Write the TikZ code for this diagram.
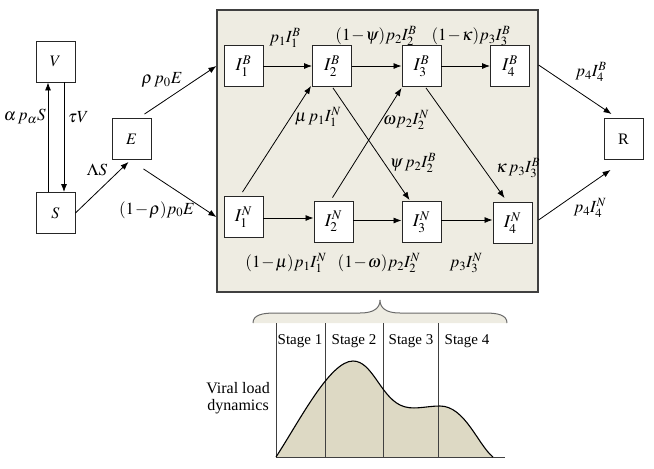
\documentclass[tikz,border=0pt]{standalone}
\usepackage{mathptmx}
\usepackage[no-math]{fontspec}
\setmainfont{Liberation Serif}
\usetikzlibrary{arrows.meta,calc}
\definecolor{panelfill}{HTML}{EEECE2}
\definecolor{curvefill}{HTML}{DDD9C4}
\definecolor{edgegray}{HTML}{404040}
\definecolor{bracegray}{HTML}{6A6A6A}
\newcommand{\mminus}{\mskip1mu{-}\mskip1mu}
\begin{document}
\begin{tikzpicture}[x=1pt,y=-1pt,
  box/.style={draw=black!85,line width=0.9pt,fill=white,minimum width=39pt,minimum height=41pt,inner sep=0pt,font=\fontsize{16}{19}\selectfont},
  ibox/.style={box,font=\fontsize{18}{20}\selectfont},
  lbl/.style={inner sep=0pt,font=\fontsize{17}{20}\selectfont},
  arr/.style={-{Latex[length=8pt,width=6pt]},line width=0.8pt},
  stagetxt/.style={inner sep=0pt,anchor=base,font=\fontsize{15}{17}\selectfont},
  panelbox/.style={draw=edgegray,line width=1.2pt,fill=panelfill,minimum width=321pt,minimum height=282pt,inner sep=0pt},
  divline/.style={draw=edgegray,line width=0.9pt}
]
\useasboundingbox (0,0) rectangle (654,469);
% panel
\node[panelbox] (panel) at (377.5,151) {};
% left boxes
\node[box] (V) at (55.5,61.5) {$V$};
\node[box] (S) at (55.5,213) {$S$};
\node[box] (E) at (131.5,139) {$E$};
\node[box] (R) at (623.5,139) {R};
% infected boxes
\node[ibox] (I1B) at (243.5,66) {$I_1^B$};
\node[ibox] (I2B) at (332,66) {$I_2^B$};
\node[ibox] (I3B) at (421.5,66) {$I_3^B$};
\node[ibox] (I4B) at (510,66) {$I_4^B$};
\node[ibox] (I1N) at (243.5,217) {$I_1^N$};
\node[ibox] (I2N) at (333.5,221.5) {$I_2^N$};
\node[ibox] (I3N) at (421.5,222) {$I_3^N$};
\node[ibox] (I4N) at (512.5,223) {$I_4^N$};
% left connectors
\draw[arr] ($(S.north)+(-7.5,0)$) -- ($(V.south)+(-7.5,0)$);
\draw[arr] ($(V.south)+(8.5,0)$) -- ($(S.north)+(8.5,0)$);
\draw[arr] (S.east) -- ($(E.south)+(-3,2)$);
\draw[arr] ($(E.north)+(13,-4)$) -- (I1B -| panel.west);
\draw[arr] ($(E.south)+(12,9)$) -- (I1N -| panel.west);
\draw[arr] ($(I4B.east -| panel.east)+(0,-1)$) -- ($(R.north west)+(8,-4)$);
\draw[arr] ($(I4N.east -| panel.east)+(0,-3)$) -- ($(R.south west)+(7,10)$);
% top row
\draw[arr] (I1B.east) -- (I2B.west);
\draw[arr] (I2B.east) -- (I3B.west);
\draw[arr] (I3B.east) -- (I4B.west);
% bottom row
\draw[arr] ($(I1N.east)+(0,1)$) -- ($(I1N.east -| I2N.west)+(0,1)$);
\draw[arr] ($(I2N.east)+(0,-1)$) -- ($(I2N.east -| I3N.west)+(0,-1)$);
\draw[arr] ($(I3N.east)+(0,-2)$) -- ($(I3N.east -| I4N.west)+(0,-2)$);
% crossing
\draw[arr] ($(I1N.north)+(-1,-4)$) -- ($(I2B.south west)+(-1,-1)$);
\draw[arr] ($(I2N.north)+(-1,-3)$) -- ($(I3B.south west)+(0,1)$);
\draw[arr] ($(I2B.south)+(1,1)$) -- ($(I3N.north west)+(8,-1)$);
\draw[arr] ($(I3B.south)+(4.5,1)$) -- ($(I4N.north west)+(12,-4)$);
% labels
\node[lbl,anchor=east] (l1) at (46,117) {$\alpha\,p_{\alpha}S$};
\node[lbl,anchor=west] (l2) at (68,117) {$\tau V$};
\node[lbl] (l3) at (97,170) {$\Lambda S$};
\node[lbl] (l4) at (162,80) {$\rho\, p_0E$};
\node[lbl] (l5) at (157,210) {$(1\mminus\rho)p_0E$};
\node[lbl] (l6) at (285,38) {$p_1I_1^B$};
\node[lbl] (l7) at (376,36) {$(1\mminus\psi)p_2I_2^B$};
\node[lbl] (l8) at (471,36) {$(1\mminus\kappa)p_3I_3^B$};
\node[lbl] (l9) at (318,117) {$\mu\, p_1I_1^N$};
\node[lbl] (l10) at (406,120) {$\omega p_2I_2^N$};
\node[lbl] (l11) at (413,163) {$\psi\, p_2I_2^B$};
\node[lbl] (l12) at (518,168) {$\kappa\, p_3I_3^B$};
\node[lbl] (l13) at (286,263) {$(1\mminus\mu)p_1I_1^N$};
\node[lbl] (l14) at (379,263) {$(1\mminus\omega)p_2I_2^N$};
\node[lbl] (l15) at (466,263) {$p_3I_3^N$};
\node[lbl] (l16) at (591,72) {$p_4I_4^B$};
\node[lbl] (l17) at (590,208) {$p_4I_4^N$};
% brace
\fill[panelfill] (253,323) .. controls (253,315) and (262,313) .. (275,313) -- (360,313) .. controls (374,313) and (380,308) .. (380,300) .. controls (380,308) and (386,313) .. (400,313) -- (485,313) .. controls (498,313) and (507,315) .. (507,323) -- cycle;
\draw[bracegray,line width=1pt] (253,323) .. controls (253,315) and (262,313) .. (275,313) -- (360,313) .. controls (374,313) and (380,308) .. (380,300) .. controls (380,308) and (386,313) .. (400,313) -- (485,313) .. controls (498,313) and (507,315) .. (507,323);
% viral load curve
\fill[curvefill] (276,457) .. controls (300,420) and (330,361) .. (353,361) .. controls (372,361) and (380,395) .. (400,405) .. controls (412,411) and (425,406) .. (440,406) .. controls (465,406) and (478,445) .. (493,457) -- cycle;
\draw[divline] (276,323) -- (276,457);
\draw[divline] (325,323) -- (325,457);
\draw[divline] (383,323) -- (383,457);
\draw[divline] (438,323) -- (438,457);
\draw[divline] (276,457) -- (505,457);
\draw[black,line width=1.1pt] (276,457) .. controls (300,420) and (330,361) .. (353,361) .. controls (372,361) and (380,395) .. (400,405) .. controls (412,411) and (425,406) .. (440,406) .. controls (465,406) and (478,445) .. (493,457);
\node[stagetxt] (s1) at (300,344) {Stage 1};
\node[stagetxt] (s2) at (354,344) {Stage 2};
\node[stagetxt] (s3) at (411,344) {Stage 3};
\node[stagetxt] (s4) at (467,344) {Stage 4};
\node[inner sep=0pt,anchor=east,align=center,font=\fontsize{16}{17}\selectfont] (vl) at (270,398) {Viral load\\dynamics};
\end{tikzpicture}
\end{document}
